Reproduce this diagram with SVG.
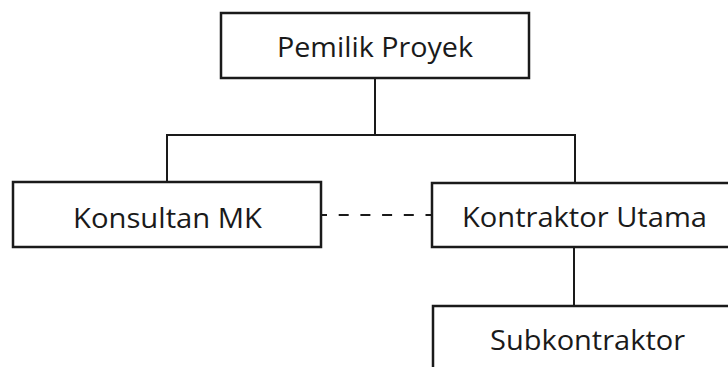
<svg xmlns="http://www.w3.org/2000/svg" width="728" height="367" viewBox="0 0 728 367">
<style>
.box{fill:#fff;stroke:#1a1a1a;stroke-width:2.5}
.lbl{font-family:"Open Sans","Liberation Sans",sans-serif;font-size:28px;fill:#1a1a1a;text-anchor:middle}
.ln{fill:none;stroke:#1a1a1a;stroke-width:2}
.dash{fill:none;stroke:#1a1a1a;stroke-width:2.2;stroke-dasharray:10 11.7;stroke-dashoffset:5}
</style>
<rect width="728" height="367" fill="#fff"/>
<g id="connectors">
<path class="ln" d="M375 78 V135 M167 182 V135 H575 V183 M574 247 V306"/>
<path class="dash" d="M322 215 H432"/>
</g>
<g id="pemilik">
<rect class="box" x="221" y="13" width="308" height="65"/>
<text class="lbl" x="375" y="57" textLength="196" lengthAdjust="spacingAndGlyphs">Pemilik Proyek</text>
</g>
<g id="konsultan">
<rect class="box" x="13" y="182" width="308" height="65"/>
<text class="lbl" x="167.5" y="228" textLength="189" lengthAdjust="spacingAndGlyphs">Konsultan MK</text>
</g>
<g id="kontraktor">
<rect class="box" x="432" y="183" width="308" height="64"/>
<text class="lbl" x="584.5" y="227" textLength="245" lengthAdjust="spacingAndGlyphs">Kontraktor Utama</text>
</g>
<g id="subkontraktor">
<rect class="box" x="433" y="306" width="308" height="80"/>
<text class="lbl" x="587.5" y="350" textLength="195" lengthAdjust="spacingAndGlyphs">Subkontraktor</text>
</g>
</svg>
